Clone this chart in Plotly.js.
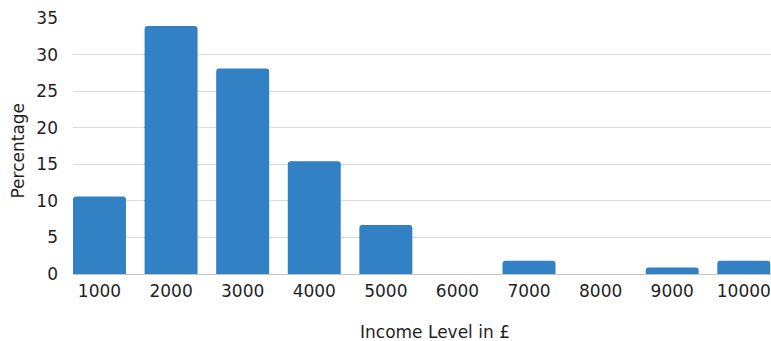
<!DOCTYPE html>
<html>
<head>
<meta charset="utf-8">
<script src="https://cdn.plot.ly/plotly-3.0.1.min.js"></script>
<style>
  html, body { margin: 0; padding: 0; background: #ffffff; }
  #chart { width: 771px; height: 341px; }
</style>
</head>
<body>
<div id="chart"></div>
<script>
// Income bands (£) and share of respondents in each band (%)
const incomeLevels = ['1000', '2000', '3000', '4000', '5000', '6000', '7000', '8000', '9000', '10000'];
const percentages = [10.6, 33.9, 28.1, 15.4, 6.7, 0, 1.8, 0, 0.9, 1.8];
const yTicks = [0, 5, 10, 15, 20, 25, 30, 35];
const xTitle = 'Income Level in £';
const yTitle = 'Percentage';

const font = 'DejaVu Sans, sans-serif';
const textColor = '#1f1f1f';

const trace = {
  type: 'bar',
  x: incomeLevels.map((_, i) => i),
  y: percentages,
  width: 0.74,
  marker: { color: '#3381c5', cornerradius: 3, line: { width: 0 } },
  hoverinfo: 'x+y'
};

const layout = {
  width: 771,
  height: 341,
  margin: { l: 73, r: 0, t: 18, b: 67 },
  paper_bgcolor: '#ffffff',
  plot_bgcolor: '#ffffff',
  showlegend: false,
  font: { family: font, color: textColor, size: 17 },
  xaxis: {
    range: [-0.37, 9.38],
    tickmode: 'array',
    tickvals: incomeLevels.map((_, i) => i),
    ticktext: incomeLevels,
    showgrid: false,
    zeroline: false,
    showline: true,
    linecolor: '#c4c4c4',
    linewidth: 1,
    ticks: '',
    ticklabelstandoff: 2,
    tickfont: { family: font, size: 17, color: textColor }
  },
  yaxis: {
    range: [0, 35],
    tickmode: 'array',
    tickvals: yTicks,
    showgrid: true,
    gridcolor: '#d9d9d9',
    gridwidth: 1,
    zeroline: false,
    showline: false,
    ticks: '',
    ticklabelstandoff: 14,
    tickfont: { family: font, size: 17, color: textColor }
  },
  // axis titles placed as annotations so they sit slightly off the plot centre
  annotations: [
    {
      text: xTitle, xref: 'paper', yref: 'paper', x: 0.5186, y: -0.2285,
      xanchor: 'center', yanchor: 'middle', showarrow: false,
      font: { family: font, size: 17, color: textColor }
    },
    {
      text: yTitle, xref: 'paper', yref: 'paper', x: -0.0781, y: 0.484,
      xanchor: 'center', yanchor: 'middle', showarrow: false, textangle: -90,
      font: { family: font, size: 17, color: textColor }
    }
  ]
};

Plotly.newPlot('chart', [trace], layout, { displayModeBar: false, staticPlot: true });
</script>
</body>
</html>
